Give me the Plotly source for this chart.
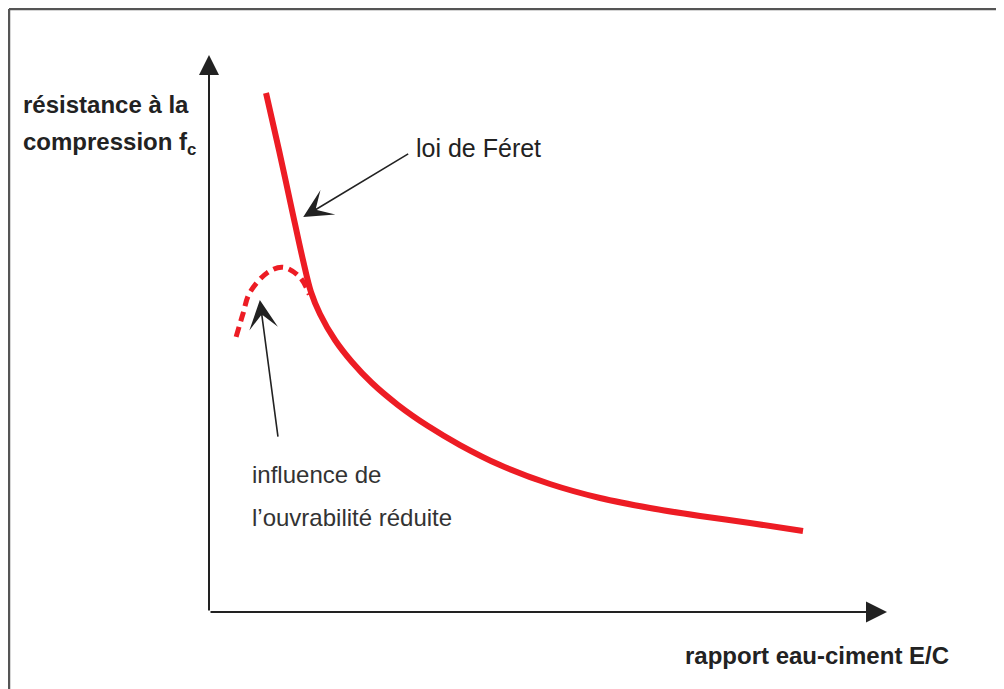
import plotly.graph_objects as go

# Loi de Féret (strength vs water/cement ratio), arbitrary units
feret_x = [8.41, 10.32, 12.24, 13.86, 15.04, 16.37, 18.58, 21.09, 24.04, 27.88, 32.30,
           37.02, 42.92, 50.29, 57.67, 65.04, 72.42, 79.79, 87.61]
feret_y = [93.18, 82.94, 72.17, 63.20, 57.45, 53.50, 48.83, 44.88, 41.11, 37.16, 33.39,
           29.98, 26.39, 22.98, 20.47, 18.67, 17.24, 15.98, 14.54]

# reduced workability influence (dashed)
work_x = [4.0, 5.0, 6.0, 8.6, 10.9, 13.4, 14.8]
work_y = [49.4, 53.5, 57.3, 60.9, 61.9, 60.1, 57.0]

y_title = ["résistance à la", "compression f<sub>c</sub>"]
x_title = "rapport eau-ciment E/C"
label_feret = "loi de Féret"
label_work = ["influence de", "l\u2019ouvrabilité réduite"]

RED = "#ED1C24"
INK = "#222222"
FONT = "Liberation Sans, Arial, sans-serif"

fig = go.Figure()
fig.add_trace(go.Scatter(x=feret_x, y=feret_y, mode="lines",
                         line=dict(color=RED, width=6, shape="spline", smoothing=0.9),
                         hoverinfo="skip"))
fig.add_trace(go.Scatter(x=work_x, y=work_y, mode="lines",
                         line=dict(color=RED, width=5, shape="spline", dash="10px,6px"),
                         hoverinfo="skip"))

ann = []
# axes with arrowheads
ann.append(dict(x=0, y=100, ax=0, ay=0, xref="x", yref="y", axref="x", ayref="y",
                showarrow=True, arrowhead=2, arrowsize=2.0, arrowwidth=2, arrowcolor=INK, text=""))
ann.append(dict(x=100, y=0, ax=0, ay=0, xref="x", yref="y", axref="x", ayref="y",
                showarrow=True, arrowhead=2, arrowsize=2.1, arrowwidth=2, arrowcolor=INK, text=""))
# pointer arrows
ann.append(dict(x=13.9, y=70.9, ax=29.6, ay=82.4, xref="x", yref="y", axref="x", ayref="y",
                showarrow=True, arrowhead=3, arrowsize=3.0, arrowwidth=1.6, arrowcolor=INK, text=""))
ann.append(dict(x=7.5, y=56.0, ax=10.2, ay=31.2, xref="x", yref="y", axref="x", ayref="y",
                showarrow=True, arrowhead=3, arrowsize=3.0, arrowwidth=1.6, arrowcolor=INK, text=""))
# labels
ann.append(dict(x=30.2, y=83.3, xref="x", yref="y", text=label_feret, showarrow=False,
                xanchor="left", yanchor="middle", font=dict(family=FONT, size=25, color=INK)))
ann.append(dict(x=6.1, y=24.7, xref="x", yref="y", text=label_work[0], showarrow=False,
                xanchor="left", yanchor="middle", font=dict(family=FONT, size=24, color="#333333")))
ann.append(dict(x=6.1, y=17.0, xref="x", yref="y", text=label_work[1], showarrow=False,
                xanchor="left", yanchor="middle", font=dict(family=FONT, size=24, color="#333333")))
ann.append(dict(x=-0.278, y=0.912, xref="paper", yref="paper", text="<b>" + y_title[0] + "</b>",
                showarrow=False, xanchor="left", yanchor="middle",
                font=dict(family=FONT, size=24, color=INK)))
ann.append(dict(x=-0.278, y=0.842, xref="paper", yref="paper", text="<b>" + y_title[1] + "</b>",
                showarrow=False, xanchor="left", yanchor="middle",
                font=dict(family=FONT, size=24, color=INK)))
ann.append(dict(x=1.094, y=-0.078, xref="paper", yref="paper", text="<b>" + x_title + "</b>",
                showarrow=False, xanchor="right", yanchor="middle",
                font=dict(family=FONT, size=24, color=INK)))

shapes = [
    dict(type="line", xref="paper", yref="paper", x0=-0.295, x1=1.3, y0=1.0826, y1=1.0826,
         line=dict(color="#555555", width=2.5)),
    dict(type="line", xref="paper", yref="paper", x0=-0.295, x1=-0.295, y0=1.0826, y1=-0.2,
         line=dict(color="#555555", width=2.5)),
]

# page body adds an 8px offset, so margins are shifted by 8px
fig.update_layout(
    width=1004, height=689,
    margin=dict(l=201, r=125, t=47, b=85),
    paper_bgcolor="white", plot_bgcolor="white",
    showlegend=False,
    xaxis=dict(range=[0, 100], visible=False, fixedrange=True),
    yaxis=dict(range=[0, 100], visible=False, fixedrange=True),
    annotations=ann, shapes=shapes,
)

fig.write_html("out.html")
